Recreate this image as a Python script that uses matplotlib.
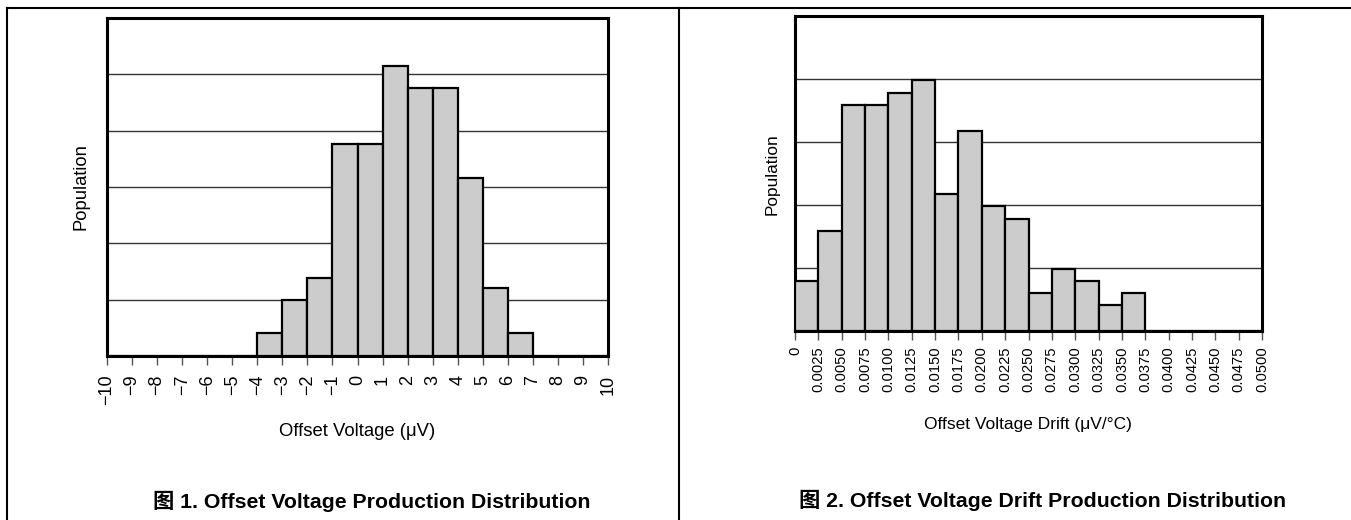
import matplotlib
matplotlib.use('Agg')
from matplotlib import pyplot as plt
from matplotlib.lines import Line2D

plt.rcParams['font.family'] = ['Liberation Sans', 'DejaVu Sans']

# figure 1: offset voltage histogram (population in grid units)
offset_bins = list(range(-10, 10))
offset_pop = [0, 0, 0, 0, 0, 0, 0.41, 0.99, 1.39, 3.77, 3.77,
              5.15, 4.75, 4.75, 3.16, 1.2, 0.41, 0, 0, 0]
offset_ticks = list(range(-10, 11))
offset_labels = [str(t).replace('-', '\u2212') for t in offset_ticks]

# figure 2: offset voltage drift histogram
drift_bins = [i * 0.0025 for i in range(20)]
drift_pop = [0.79, 1.59, 3.58, 3.58, 3.77, 3.98, 2.18, 3.18, 1.98, 1.78,
             0.60, 0.99, 0.79, 0.41, 0.60, 0, 0, 0, 0, 0]
drift_ticks = [i * 0.0025 for i in range(21)]
drift_labels = ['0'] + ['%.4f' % t for t in drift_ticks[1:]]

W, H = 1351, 520
fig = plt.figure(figsize=(W / 100, H / 100), dpi=100)


def style(ax, ylim, tick_size, pad):
    ax.set_ylim(0, ylim)
    ax.set_yticks(range(1, ylim))
    ax.yaxis.grid(True, color='#333333', linewidth=1.0)
    ax.set_axisbelow(True)
    ax.tick_params(axis='y', length=0, labelleft=False)
    ax.tick_params(axis='x', direction='out', length=6.5, width=1.0,
                   color='#555555', pad=pad, labelsize=tick_size,
                   labelrotation=90)
    for s in ax.spines.values():
        s.set_linewidth(2.2)
        s.set_color('black')


ax1 = fig.add_axes([107 / W, 1 - 356 / H, 501 / W, 338 / H])
ax1.bar(offset_bins, offset_pop, width=1, align='edge', color='#cccccc',
        edgecolor='black', linewidth=1.6, zorder=3)
ax1.set_xlim(-10, 10)
ax1.set_xticks(offset_ticks)
ax1.set_xticklabels(offset_labels)
style(ax1, 6, 13, 7)
fig.text(81 / W, 1 - 187 / H, 'Population', rotation=90, fontsize=13.2,
         ha='center', va='center')
fig.text(357 / W, 1 - 432 / H, 'Offset Voltage (\u03bcV)', fontsize=13.3,
         ha='center', va='center')

ax2 = fig.add_axes([795 / W, 1 - 331 / H, 467 / W, 315 / H])
ax2.bar(drift_bins, drift_pop, width=0.0025, align='edge', color='#cccccc',
        edgecolor='black', linewidth=1.6, zorder=3)
ax2.set_xlim(0, 0.05)
ax2.set_xticks(drift_ticks)
ax2.set_xticklabels(drift_labels)
style(ax2, 5, 10.6, 4.5)
fig.text(772 / W, 1 - 174 / H, 'Population', rotation=90, fontsize=12.4,
         ha='center', va='center')
fig.text(1028 / W, 1 - 424 / H, 'Offset Voltage Drift (\u03bcV/\u00b0C)',
         fontsize=12.5, ha='center', va='center')

title_font = ['Liberation Sans', 'Noto Sans CJK SC']
fig.text(372 / W, 1 - 501 / H, '\u56fe 1. Offset Voltage Production Distribution',
         fontsize=15.3, fontweight='bold', family=title_font,
         ha='center', va='center')
fig.text(1043 / W, 1 - 500 / H,
         '\u56fe 2. Offset Voltage Drift Production Distribution',
         fontsize=15.3, fontweight='bold', family=title_font,
         ha='center', va='center')

# page frame lines
for xs, ys in [([7, W], [8, 8]), ([7, 7], [8, H]), ([679, 679], [8, H])]:
    fig.add_artist(Line2D([x / W for x in xs], [1 - y / H for y in ys],
                          color='black', linewidth=1.5))

fig.savefig('out.png', dpi=100)
